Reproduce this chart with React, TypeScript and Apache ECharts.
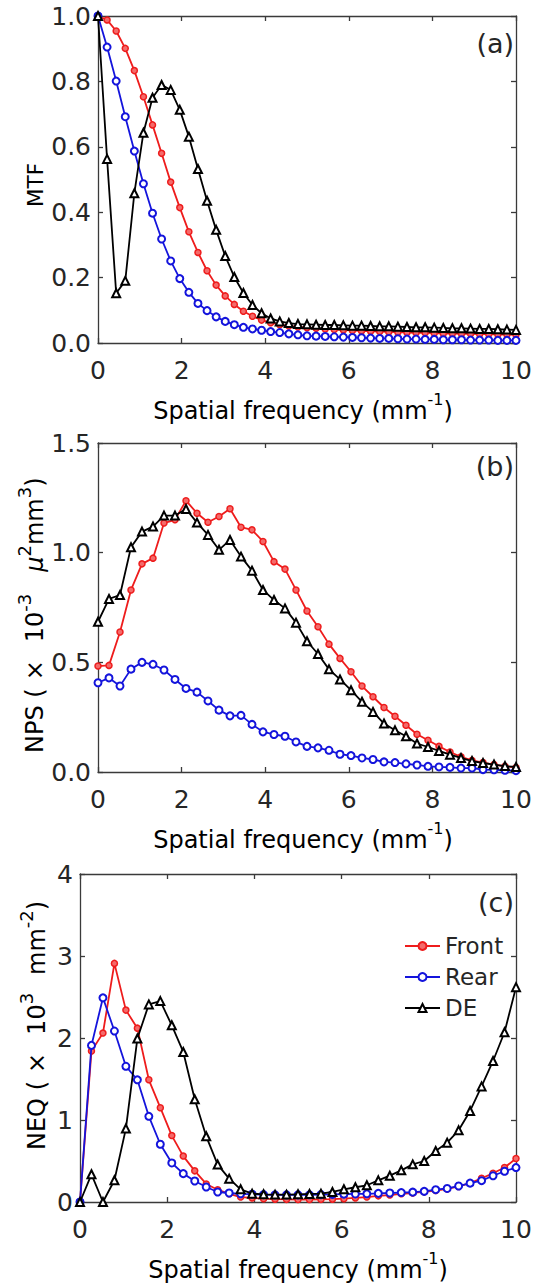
import React, { useEffect, useRef } from "react";
import * as echarts from "echarts";

// ---------- data ----------
// Panel (a) MTF, 47 samples from 0 to 10 mm^-1
const mtfStep = 10 / 46;
const mtfFront = [1.0, 0.988, 0.954, 0.901, 0.833, 0.753, 0.667, 0.58, 0.492, 0.414, 0.34, 0.277, 0.221, 0.177, 0.144, 0.118, 0.097, 0.082, 0.07, 0.062, 0.056, 0.052, 0.049, 0.047, 0.045, 0.043, 0.041, 0.04, 0.038, 0.037, 0.036, 0.035, 0.034, 0.033, 0.032, 0.031, 0.031, 0.03, 0.029, 0.029, 0.028, 0.028, 0.027, 0.027, 0.026, 0.026, 0.025];
const mtfRear = [1.0, 0.905, 0.801, 0.692, 0.587, 0.487, 0.397, 0.318, 0.251, 0.197, 0.155, 0.121, 0.099, 0.08, 0.066, 0.056, 0.048, 0.043, 0.039, 0.035, 0.032, 0.028, 0.025, 0.022, 0.021, 0.02, 0.019, 0.018, 0.017, 0.016, 0.015, 0.014, 0.014, 0.013, 0.012, 0.012, 0.011, 0.011, 0.01, 0.01, 0.01, 0.009, 0.009, 0.009, 0.008, 0.008, 0.008];
const mtfDE = [1.0, 0.563, 0.152, 0.19, 0.458, 0.643, 0.75, 0.789, 0.774, 0.713, 0.631, 0.532, 0.435, 0.346, 0.266, 0.202, 0.153, 0.116, 0.091, 0.075, 0.066, 0.061, 0.058, 0.057, 0.056, 0.055, 0.055, 0.054, 0.053, 0.053, 0.052, 0.051, 0.051, 0.05, 0.049, 0.048, 0.048, 0.047, 0.046, 0.045, 0.045, 0.044, 0.043, 0.043, 0.042, 0.041, 0.04];

// Panels (b) NPS and (c) NEQ, 39 samples from 0 to 10 mm^-1
const npsStep = 10 / 38;
const npsFront = [0.483, 0.486, 0.638, 0.83, 0.949, 0.975, 1.135, 1.15, 1.237, 1.18, 1.139, 1.165, 1.2, 1.116, 1.104, 1.051, 0.959, 0.925, 0.83, 0.734, 0.662, 0.583, 0.518, 0.457, 0.392, 0.343, 0.294, 0.254, 0.213, 0.172, 0.145, 0.117, 0.091, 0.069, 0.053, 0.043, 0.034, 0.026, 0.02];
const npsRear = [0.407, 0.429, 0.392, 0.469, 0.5, 0.491, 0.465, 0.422, 0.381, 0.364, 0.324, 0.282, 0.256, 0.258, 0.217, 0.183, 0.171, 0.163, 0.137, 0.117, 0.11, 0.099, 0.081, 0.075, 0.064, 0.057, 0.046, 0.043, 0.037, 0.032, 0.026, 0.023, 0.021, 0.018, 0.018, 0.011, 0.01, 0.008, 0.006];
const npsDE = [0.685, 0.789, 0.807, 1.025, 1.096, 1.119, 1.169, 1.169, 1.199, 1.137, 1.081, 1.013, 1.058, 0.982, 0.918, 0.83, 0.784, 0.746, 0.681, 0.596, 0.538, 0.468, 0.422, 0.373, 0.32, 0.274, 0.221, 0.19, 0.163, 0.13, 0.114, 0.096, 0.079, 0.064, 0.05, 0.041, 0.034, 0.027, 0.023];

const neqFront = [0, 1.84, 2.06, 2.91, 2.34, 2.12, 1.49, 1.15, 0.81, 0.56, 0.38, 0.22, 0.15, 0.1, 0.06, 0.05, 0.04, 0.035, 0.032, 0.03, 0.03, 0.032, 0.035, 0.04, 0.05, 0.06, 0.075, 0.085, 0.1, 0.11, 0.125, 0.14, 0.16, 0.19, 0.23, 0.29, 0.35, 0.42, 0.53];
const neqRear = [0, 1.91, 2.49, 2.085, 1.655, 1.49, 1.045, 0.704, 0.476, 0.346, 0.256, 0.183, 0.122, 0.11, 0.1, 0.095, 0.09, 0.088, 0.087, 0.087, 0.088, 0.09, 0.092, 0.095, 0.098, 0.1, 0.105, 0.11, 0.115, 0.12, 0.13, 0.15, 0.165, 0.195, 0.23, 0.26, 0.32, 0.375, 0.42];
const neqDE = [0, 0.338, 0, 0.265, 0.895, 1.993, 2.41, 2.45, 2.155, 1.83, 1.252, 0.801, 0.456, 0.285, 0.155, 0.102, 0.094, 0.09, 0.09, 0.094, 0.098, 0.102, 0.122, 0.155, 0.18, 0.204, 0.264, 0.321, 0.386, 0.459, 0.5, 0.622, 0.724, 0.874, 1.11, 1.41, 1.72, 2.07, 2.62];

const seriesNames = ["Front", "Rear", "DE"];
const panelLetters = ["(a)", "(b)", "(c)"];
const xRange = { min: 0, max: 10, interval: 2 };
const yRanges = [
  { min: 0, max: 1, interval: 0.2, decimals: 1 },
  { min: 0, max: 1.5, interval: 0.5, decimals: 1 },
  { min: 0, max: 4, interval: 1, decimals: 0 },
];

// ---------- style ----------
const FONT = "DejaVu Sans";
const AXIS = "#3a3a3a";
const TXT = "#262626";
const COLORS = ["#ee1c1c", "#1414dc", "#000000"];

const grids = [
  { left: 98, top: 16, width: 418, height: 327 },
  { left: 98, top: 443, width: 418, height: 329 },
  { left: 80, top: 874, width: 436, height: 328 },
];

function pairs(values: number[], step: number) {
  return values.map((v, i) => [i * step, v]);
}

function richFor(size: number, supSize: number) {
  return {
    m: { fontFamily: FONT, fontSize: size, lineHeight: 40, color: TXT },
    it: { fontFamily: FONT, fontSize: size, lineHeight: 40, fontStyle: "italic", color: TXT },
    sup: { fontFamily: FONT, fontSize: supSize, lineHeight: 12, verticalAlign: "top", color: TXT },
    s1: { width: 8, lineHeight: 40 },
    s2: { width: 18, lineHeight: 40 },
    s3: { width: 22, lineHeight: 40 },
  };
}

export default function App() {
  const ref = useRef<HTMLDivElement>(null);

  useEffect(() => {
    if (!ref.current) return;
    const chart = echarts.init(ref.current, undefined, { renderer: "svg" });

    const xAxes: any[] = [];
    const yAxes: any[] = [];
    grids.forEach((g, gi) => {
      const yr = yRanges[gi];
      const line = { show: true, onZero: false, lineStyle: { color: AXIS, width: 1.3 } };
      const tick = { show: true, inside: true, length: 5, lineStyle: { color: AXIS, width: 1.3 } };
      xAxes.push({
        type: "value", gridIndex: gi, position: "bottom", ...xRange,
        axisLine: line, axisTick: tick, splitLine: { show: false },
        axisLabel: { show: true, margin: 15, fontFamily: FONT, fontSize: 25, color: TXT },
      });
      xAxes.push({
        type: "value", gridIndex: gi, position: "top", ...xRange,
        axisLine: line, axisTick: tick, splitLine: { show: false },
        axisLabel: { show: false },
      });
      yAxes.push({
        type: "value", gridIndex: gi, position: "left", min: yr.min, max: yr.max, interval: yr.interval,
        axisLine: line, axisTick: tick, splitLine: { show: false },
        axisLabel: {
          show: true, margin: 7, fontFamily: FONT, fontSize: 25, color: TXT,
          formatter: (v: number) => v.toFixed(yr.decimals),
        },
      });
      yAxes.push({
        type: "value", gridIndex: gi, position: "right", min: yr.min, max: yr.max, interval: yr.interval,
        axisLine: line, axisTick: tick, splitLine: { show: false },
        axisLabel: { show: false },
      });
    });

    const panelData = [
      { step: mtfStep, sets: [mtfFront, mtfRear, mtfDE] },
      { step: npsStep, sets: [npsFront, npsRear, npsDE] },
      { step: npsStep, sets: [neqFront, neqRear, neqDE] },
    ];
    const symbolStyles = [
      { symbol: "circle", symbolSize: 6, borderWidth: 1.5, fill: "#f46a6a" },
      { symbol: "emptyCircle", symbolSize: 7, borderWidth: 1.3, fill: null },
      { symbol: "emptyTriangle", symbolSize: 8, borderWidth: 1.5, fill: null },
    ];

    const series: any[] = [];
    panelData.forEach((p, gi) => {
      p.sets.forEach((vals, si) => {
        const s = symbolStyles[si];
        series.push({
          type: "line", name: seriesNames[si],
          xAxisIndex: gi * 2, yAxisIndex: gi * 2,
          data: pairs(vals, p.step),
          symbol: s.symbol, symbolSize: s.symbolSize, showSymbol: true, showAllSymbol: true,
          lineStyle: { color: COLORS[si], width: 1.8 },
          itemStyle: { color: s.fill || COLORS[si], borderColor: COLORS[si], borderWidth: s.borderWidth },
          emphasis: { disabled: true },
          clip: true, z: 2 + si,
        });
      });
    });

    const xTitle = "{m|Spatial frequency (mm}{sup|-1}{m|)}";
    const graphics: any[] = [];
    const xTitleCenters = [303, 303, 298];
    grids.forEach((g, gi) => {
      graphics.push({
        type: "text", x: xTitleCenters[gi], y: g.top + g.height + 68,
        style: { text: xTitle, rich: richFor(24, 16), align: "center", verticalAlign: "middle" },
      });
      graphics.push({
        type: "text", x: 514, y: [43, 466, 902][gi],
        style: { text: panelLetters[gi], fontFamily: FONT, fontSize: 27, fill: TXT, align: "right", verticalAlign: "middle" },
      });
    });
    // rotated y titles, anchored at their start (bottom end)
    const yTitles = [
      { text: "{m|MTF}", x: 35, y: 207, size: 21.5 },
      { text: "{m|NPS (}{s1|}{m|×}{s2|}{m|10}{sup|-3}{s3|}{it|μ}{sup|2}{m|mm}{sup|3}{m|)}", x: 35, y: 753, size: 24 },
      { text: "{m|NEQ (}{s1|}{m|×}{s2|}{m|10}{sup|3}{s2|}{m|mm}{sup|-2}{m|)}", x: 37, y: 1150, size: 24 },
    ];
    yTitles.forEach((t) => {
      graphics.push({
        type: "text", x: t.x, y: t.y, rotation: Math.PI / 2,
        style: { text: t.text, rich: richFor(t.size, 18), align: "left", verticalAlign: "middle" },
      });
    });

    chart.setOption({
      animation: false,
      backgroundColor: "#ffffff",
      grid: grids.map((g) => ({ ...g, containLabel: false, outerBoundsMode: "none" })),
      xAxis: xAxes,
      yAxis: yAxes,
      series,
      legend: {
        show: true, data: seriesNames, orient: "vertical", left: 404, top: 934,
        itemWidth: 35, itemHeight: 10, itemGap: 7, padding: 0, selectedMode: false,
        textStyle: { fontFamily: FONT, fontSize: 23, color: TXT, lineHeight: 24 },
      },
      graphic: graphics,
    });

    return () => chart.dispose();
  }, []);

  return (
    <div
      ref={ref}
      style={{ position: "absolute", left: 0, top: 0, width: 538, height: 1286, background: "#fff" }}
    />
  );
}
